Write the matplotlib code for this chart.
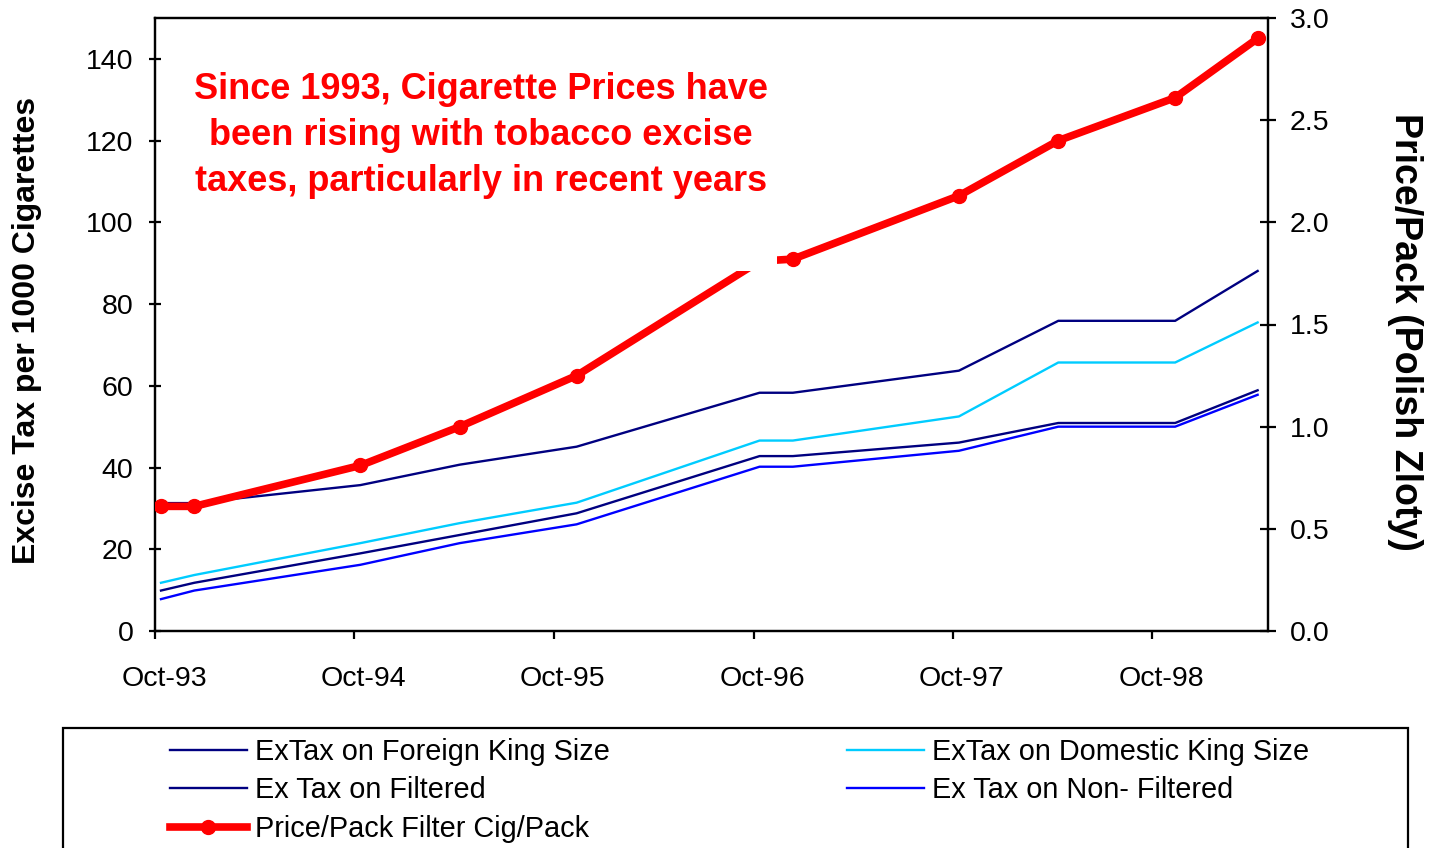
import matplotlib
matplotlib.use("Agg")
import matplotlib.pyplot as plt
import matplotlib.dates as mdates
import matplotlib.transforms as mtransforms
from matplotlib.patches import Rectangle
from matplotlib.ticker import FormatStrFormatter, MultipleLocator
import datetime as dt

# ---- data ----
months = ["1993-10", "1993-12", "1994-10", "1995-04", "1995-11", "1996-10",
          "1996-12", "1997-10", "1998-04", "1998-11", "1999-04"]
foreign_king = [31.3, 31.3, 35.7, 40.7, 45.1, 58.3, 58.3, 63.7, 75.9, 75.9, 88.1]
domestic_king = [11.8, 13.7, 21.5, 26.4, 31.4, 46.6, 46.6, 52.5, 65.7, 65.7, 75.5]
filtered = [9.9, 11.8, 19.0, 23.5, 28.8, 42.8, 42.8, 46.1, 50.9, 50.9, 58.9]
non_filtered = [7.8, 9.9, 16.2, 21.5, 26.1, 40.2, 40.2, 44.1, 50.0, 50.0, 57.8]
price = [0.61, 0.61, 0.81, 1.00, 1.25, 1.81, 1.82, 2.13, 2.40, 2.61, 2.90]

labels = ["ExTax on Foreign King Size", "ExTax on Domestic King Size",
          "Ex Tax on Filtered", "Ex Tax on Non- Filtered",
          "Price/Pack Filter Cig/Pack"]
tick_years = [1993, 1994, 1995, 1996, 1997, 1998]
annotation = ("Since 1993, Cigarette Prices have\n"
              "been rising with tobacco excise\n"
              "taxes, particularly in recent years")

dates = [dt.date(int(m[:4]), int(m[5:]), 12) for m in months]

plt.rcParams['font.family'] = ['Liberation Sans', 'DejaVu Sans']

W, H = 1439, 848
fig = plt.figure(figsize=(W / 100, H / 100), dpi=100)
ax = fig.add_axes([155 / W, 1 - 631 / H, (1268 - 155) / W, (631 - 18) / H])
ax2 = ax.twinx()

navy = '#000080'
cyan = '#00CCFF'
blue = '#0000FF'
red = '#FF0000'

l1, = ax.plot(dates, foreign_king, color=navy, lw=1.7, zorder=2)
l2, = ax.plot(dates, domestic_king, color=cyan, lw=1.7, zorder=2)
l3, = ax.plot(dates, filtered, color=navy, lw=1.7, zorder=2)
l4, = ax.plot(dates, non_filtered, color=blue, lw=1.7, zorder=2)
l5, = ax2.plot(dates, price, color=red, lw=5.5, marker='o', markersize=10, zorder=3)

ax.set_zorder(1)
ax2.set_zorder(2)
ax.patch.set_visible(False)

ax.set_xlim(dt.date(1993, 10, 1), dt.date(1999, 5, 1))
ax.set_ylim(0, 150)
ax2.set_ylim(0, 3.0)
ax.set_xticks([dt.date(y, 10, 1) for y in tick_years])
ax.xaxis.set_major_formatter(mdates.DateFormatter('%b-%y'))
ax.set_yticks(range(0, 141, 20))
ax2.yaxis.set_major_locator(MultipleLocator(0.5))
ax2.yaxis.set_major_formatter(FormatStrFormatter('%.1f'))

for a in (ax, ax2):
    for s in a.spines.values():
        s.set_linewidth(1.6)
        s.set_color('black')

ax.tick_params(axis='y', direction='inout', length=9, width=1.6, labelsize=20.5, pad=11)
ax.tick_params(axis='x', direction='out', length=6, width=1.6, labelsize=20.5, pad=19)
ax2.tick_params(axis='y', direction='inout', length=11, width=1.6, labelsize=20.5, pad=10)

# x tick labels sit slightly right of their ticks, as in the original
offset = mtransforms.ScaledTranslation(9 / 100, 0, fig.dpi_scale_trans)
for lab in ax.get_xticklabels():
    lab.set_transform(lab.get_transform() + offset)

# white text box covering part of the price line
ax2.add_patch(Rectangle((0.027, 0.587), 0.532, 0.34, transform=ax2.transAxes,
                        facecolor='white', edgecolor='none', zorder=4))
ax2.text(0.293, 0.808, annotation, transform=ax2.transAxes, ha='center', va='center',
         multialignment='center', color=red, fontsize=26, fontweight='bold',
         linespacing=1.4, zorder=5)

fig.text(27 / W, 1 - 330 / H, "Excise Tax per 1000 Cigarettes", rotation=90,
         ha='center', va='center', fontsize=23, fontweight='bold')
fig.text(1405 / W, 1 - 332 / H, "Price/Pack (Polish Zloty)", rotation=-90,
         ha='center', va='center', fontsize=27, fontweight='bold')

# legend frame
fig.patches.append(Rectangle((63 / W, -0.05), (1408 - 63) / W, 0.05 + 1 - 728 / H,
                             transform=fig.transFigure, facecolor='none',
                             edgecolor='black', lw=1.6))
handles = [l1, l3, l5, l2, l4]
hl = [labels[0], labels[2], labels[4], labels[1], labels[3]]
fig.legend(handles, hl, loc='upper left', bbox_to_anchor=(170 / W, 1 - 738 / H),
           ncol=2, frameon=False, borderpad=0, handlelength=2.65, handletextpad=0.3,
           columnspacing=8.2, labelspacing=0.36, fontsize=20.8, borderaxespad=0)

fig.savefig("out.png", dpi=100)
